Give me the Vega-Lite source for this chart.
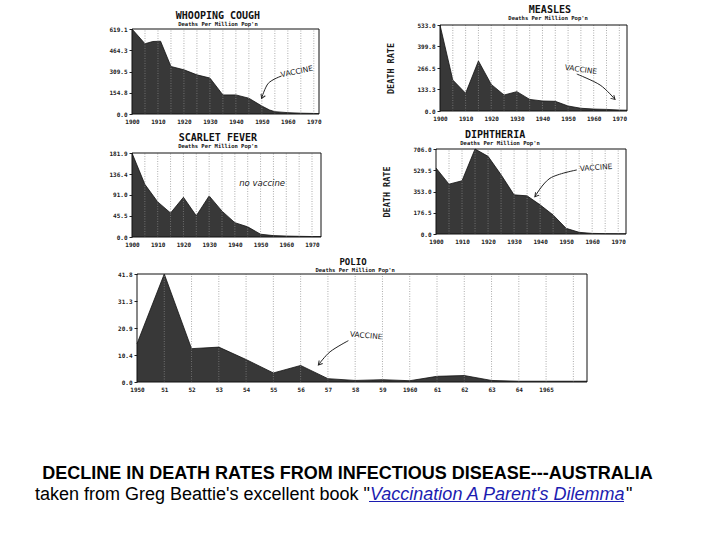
{
"$schema": "https://vega.github.io/schema/vega-lite/v6.json",
"width": 720, "height": 540, "padding": 0, "autosize": {"type": "none"},
"background": "white",
"config": {
  "view": {"stroke": null},
  "axis": {"labelFont": "DejaVu Sans Mono", "labelFontSize": 6, "labelFontWeight": "bold", "labelColor": "#1a1a1a", "domain": false, "tickColor": "#222", "tickSize": 3, "titleFont": "DejaVu Sans Mono", "titleFontWeight": "bold", "titleColor": "#1a1a1a", "labelFlush": false, "labelOverlap": false, "grid": false},
  "axisX": {"ticks": false, "labelPadding": 4},
  "axisY": {"ticks": true, "labelPadding": 2}
},
"datasets": {
  "whooping": [
    {"year": 1900, "rate": 619.1}, {"year": 1905, "rate": 512}, {"year": 1908, "rate": 528}, {"year": 1911, "rate": 530},
    {"year": 1915, "rate": 346}, {"year": 1920, "rate": 322}, {"year": 1925, "rate": 285}, {"year": 1930, "rate": 262},
    {"year": 1935, "rate": 139}, {"year": 1940, "rate": 139}, {"year": 1945, "rate": 115}, {"year": 1950, "rate": 58},
    {"year": 1953, "rate": 29}, {"year": 1955, "rate": 17}, {"year": 1960, "rate": 10}, {"year": 1965, "rate": 6},
    {"year": 1970, "rate": 4}, {"year": 1972, "rate": 3}
  ],
  "measles": [
    {"year": 1900, "rate": 533}, {"year": 1905, "rate": 192}, {"year": 1910, "rate": 110}, {"year": 1915, "rate": 310},
    {"year": 1920, "rate": 165}, {"year": 1925, "rate": 99}, {"year": 1930, "rate": 120}, {"year": 1935, "rate": 72},
    {"year": 1940, "rate": 62}, {"year": 1945, "rate": 60}, {"year": 1950, "rate": 31}, {"year": 1955, "rate": 17},
    {"year": 1960, "rate": 12}, {"year": 1965, "rate": 10}, {"year": 1970, "rate": 6}, {"year": 1973, "rate": 5}
  ],
  "scarlet": [
    {"year": 1900, "rate": 181.9}, {"year": 1905, "rate": 114}, {"year": 1910, "rate": 76}, {"year": 1915, "rate": 52},
    {"year": 1920, "rate": 86}, {"year": 1925, "rate": 46}, {"year": 1930, "rate": 89}, {"year": 1935, "rate": 56},
    {"year": 1940, "rate": 31}, {"year": 1945, "rate": 22}, {"year": 1950, "rate": 6}, {"year": 1955, "rate": 3},
    {"year": 1960, "rate": 2}, {"year": 1965, "rate": 1.5}, {"year": 1970, "rate": 1}, {"year": 1973.5, "rate": 1}
  ],
  "diphtheria": [
    {"year": 1900, "rate": 548}, {"year": 1905, "rate": 414}, {"year": 1910, "rate": 442}, {"year": 1915, "rate": 706},
    {"year": 1920, "rate": 645}, {"year": 1925, "rate": 492}, {"year": 1930, "rate": 325}, {"year": 1935, "rate": 317},
    {"year": 1940, "rate": 242}, {"year": 1945, "rate": 158}, {"year": 1950, "rate": 47}, {"year": 1955, "rate": 14},
    {"year": 1960, "rate": 5}, {"year": 1965, "rate": 3}, {"year": 1970, "rate": 2}, {"year": 1973, "rate": 2}
  ],
  "polio": [
    {"year": 1950, "rate": 14.8}, {"year": 1951, "rate": 41.8}, {"year": 1952, "rate": 12.9}, {"year": 1953, "rate": 13.5},
    {"year": 1954, "rate": 8.7}, {"year": 1955, "rate": 3.5}, {"year": 1956, "rate": 6.4}, {"year": 1957, "rate": 1.3},
    {"year": 1958, "rate": 0.6}, {"year": 1959, "rate": 0.9}, {"year": 1960, "rate": 0.5}, {"year": 1961, "rate": 2.2},
    {"year": 1962, "rate": 2.5}, {"year": 1963, "rate": 0.6}, {"year": 1964, "rate": 0.3}, {"year": 1965, "rate": 0.3},
    {"year": 1966, "rate": 0.3}, {"year": 1966.5, "rate": 0.3}
  ],
  "grid_decades": [
    {"g": 1905}, {"g": 1910}, {"g": 1915}, {"g": 1920}, {"g": 1925}, {"g": 1930}, {"g": 1935}, {"g": 1940},
    {"g": 1945}, {"g": 1950}, {"g": 1955}, {"g": 1960}, {"g": 1965}, {"g": 1970}
  ],
  "grid_years": [
    {"g": 1951}, {"g": 1952}, {"g": 1953}, {"g": 1954}, {"g": 1955}, {"g": 1956}, {"g": 1957}, {"g": 1958},
    {"g": 1959}, {"g": 1960}, {"g": 1961}, {"g": 1962}, {"g": 1963}, {"g": 1964}, {"g": 1965}, {"g": 1966}
  ]
},
"resolve": {"scale": {"x": "independent", "y": "independent"}, "axis": {"x": "independent", "y": "independent"}},
"layer": [
  {
    "layer": [
      {"data": {"name": "whooping"},
       "mark": {"type": "area", "color": "#383838", "opacity": 1, "line": {"color": "#111", "strokeWidth": 0.8}},
       "encoding": {
         "x": {"field": "year", "type": "quantitative", "scale": {"domain": [1900, 1972], "range": [132, 319], "nice": false, "zero": false},
               "axis": {"orient": "bottom", "offset": -426, "values": [1900,1910,1920,1930,1940,1950,1960,1970], "format": "d", "title": null}},
         "y": {"field": "rate", "type": "quantitative", "scale": {"domain": [0, 619.1], "range": [114, 29], "nice": false, "zero": false},
               "axis": {"orient": "left", "offset": -132, "values": [0, 154.8, 309.5, 464.3, 619.1], "format": ".1f", "title": null}}
       }},
      {"data": {"name": "grid_decades"},
       "mark": {"type": "rule", "color": "#8a8a8a", "strokeWidth": 0.7, "strokeDash": [1, 1.5]},
       "encoding": {"x": {"field": "g", "type": "quantitative"}, "y": {"datum": 0, "type": "quantitative"}, "y2": {"datum": 619.1}}},
      {"data": {"values": [{}]},
       "mark": {"type": "rect", "fillOpacity": 0, "stroke": "#111", "strokeWidth": 1},
       "encoding": {"x": {"datum": 1900, "type": "quantitative"}, "x2": {"datum": 1972},
                    "y": {"datum": 0, "type": "quantitative"}, "y2": {"datum": 619.1}}},
      {"data": {"values": [{}]},
       "mark": {"type": "text", "font": "DejaVu Sans Mono", "fontWeight": "bold", "fontSize": 10, "baseline": "alphabetic", "color": "#111"},
       "encoding": {"x": {"datum": 1933.1, "type": "quantitative"}, "y": {"datum": 692, "type": "quantitative"}, "text": {"value": "WHOOPING COUGH"}}},
      {"data": {"values": [{}]},
       "mark": {"type": "text", "font": "DejaVu Sans Mono", "fontWeight": "bold", "fontSize": 5.5, "baseline": "alphabetic", "color": "#111"},
       "encoding": {"x": {"datum": 1933.1, "type": "quantitative"}, "y": {"datum": 641, "type": "quantitative"}, "text": {"value": "Deaths Per Million Pop'n"}}},
      {"data": {"values": [{}]},
       "mark": {"type": "text", "font": "DejaVu Sans", "fontSize": 7.5, "angle": -12, "color": "#222"},
       "encoding": {"x": {"datum": 1963.5, "type": "quantitative"}, "y": {"datum": 306, "type": "quantitative"}, "text": {"value": "VACCINE"}}},
      {"data": {"values": [{"year": 1957.6, "rate": 277}, {"year": 1952.5, "rate": 224}, {"year": 1949.9, "rate": 114}]},
       "mark": {"type": "line", "interpolate": "cardinal", "color": "#222", "strokeWidth": 1},
       "encoding": {"x": {"field": "year", "type": "quantitative"}, "y": {"field": "rate", "type": "quantitative"}}},
      {"data": {"values": [{"year": 1949.9, "rate": 114}]},
       "mark": {"type": "point", "shape": "M-0.6,-1L0,0L0.6,-1", "filled": false, "size": 60, "angle": 24, "color": "#222", "strokeWidth": 1, "opacity": 1},
       "encoding": {"x": {"field": "year", "type": "quantitative"}, "y": {"field": "rate", "type": "quantitative"}}}
    ]
  },
  {
    "layer": [
      {"data": {"name": "measles"},
       "mark": {"type": "area", "color": "#383838", "opacity": 1, "line": {"color": "#111", "strokeWidth": 0.8}},
       "encoding": {
         "x": {"field": "year", "type": "quantitative", "scale": {"domain": [1900, 1973], "range": [440, 627], "nice": false, "zero": false},
               "axis": {"orient": "bottom", "offset": -429, "values": [1900,1910,1920,1930,1940,1950,1960,1970], "format": "d", "title": null}},
         "y": {"field": "rate", "type": "quantitative", "scale": {"domain": [0, 533], "range": [111, 25], "nice": false, "zero": false},
               "axis": {"orient": "left", "offset": -440, "values": [0, 133.3, 266.5, 399.8, 533], "format": ".1f", "title": "DEATH RATE", "titleFontSize": 8.5, "titlePadding": 21}}
       }},
      {"data": {"name": "grid_decades"},
       "mark": {"type": "rule", "color": "#8a8a8a", "strokeWidth": 0.7, "strokeDash": [1, 1.5]},
       "encoding": {"x": {"field": "g", "type": "quantitative"}, "y": {"datum": 0, "type": "quantitative"}, "y2": {"datum": 533}}},
      {"data": {"values": [{}]},
       "mark": {"type": "rect", "fillOpacity": 0, "stroke": "#111", "strokeWidth": 1},
       "encoding": {"x": {"datum": 1900, "type": "quantitative"}, "x2": {"datum": 1973},
                    "y": {"datum": 0, "type": "quantitative"}, "y2": {"datum": 533}}},
      {"data": {"values": [{}]},
       "mark": {"type": "text", "font": "DejaVu Sans Mono", "fontWeight": "bold", "fontSize": 10, "baseline": "alphabetic", "color": "#111"},
       "encoding": {"x": {"datum": 1942.9, "type": "quantitative"}, "y": {"datum": 605, "type": "quantitative"}, "text": {"value": "MEASLES"}}},
      {"data": {"values": [{}]},
       "mark": {"type": "text", "font": "DejaVu Sans Mono", "fontWeight": "bold", "fontSize": 5.5, "baseline": "alphabetic", "color": "#111"},
       "encoding": {"x": {"datum": 1942.2, "type": "quantitative"}, "y": {"datum": 564, "type": "quantitative"}, "text": {"value": "Deaths Per Million Pop'n"}}},
      {"data": {"values": [{}]},
       "mark": {"type": "text", "font": "DejaVu Sans", "fontSize": 7.5, "angle": 8, "color": "#222"},
       "encoding": {"x": {"datum": 1955.0, "type": "quantitative"}, "y": {"datum": 254, "type": "quantitative"}, "text": {"value": "VACCINE"}}},
      {"data": {"values": [{"year": 1953.4, "rate": 229}, {"year": 1962.5, "rate": 161}, {"year": 1968.3, "rate": 72}]},
       "mark": {"type": "line", "interpolate": "cardinal", "color": "#222", "strokeWidth": 1},
       "encoding": {"x": {"field": "year", "type": "quantitative"}, "y": {"field": "rate", "type": "quantitative"}}},
      {"data": {"values": [{"year": 1968.3, "rate": 72}]},
       "mark": {"type": "point", "shape": "M-0.6,-1L0,0L0.6,-1", "filled": false, "size": 60, "angle": -46, "color": "#222", "strokeWidth": 1, "opacity": 1},
       "encoding": {"x": {"field": "year", "type": "quantitative"}, "y": {"field": "rate", "type": "quantitative"}}}
    ]
  },
  {
    "layer": [
      {"data": {"name": "scarlet"},
       "mark": {"type": "area", "color": "#383838", "opacity": 1, "line": {"color": "#111", "strokeWidth": 0.8}},
       "encoding": {
         "x": {"field": "year", "type": "quantitative", "scale": {"domain": [1900, 1973.5], "range": [132, 321], "nice": false, "zero": false},
               "axis": {"orient": "bottom", "offset": -303, "values": [1900,1910,1920,1930,1940,1950,1960,1970], "format": "d", "title": null}},
         "y": {"field": "rate", "type": "quantitative", "scale": {"domain": [0, 181.9], "range": [237, 153], "nice": false, "zero": false},
               "axis": {"orient": "left", "offset": -132, "values": [0, 45.5, 91, 136.4, 181.9], "format": ".1f", "title": null}}
       }},
      {"data": {"name": "grid_decades"},
       "mark": {"type": "rule", "color": "#8a8a8a", "strokeWidth": 0.7, "strokeDash": [1, 1.5]},
       "encoding": {"x": {"field": "g", "type": "quantitative"}, "y": {"datum": 0, "type": "quantitative"}, "y2": {"datum": 181.9}}},
      {"data": {"values": [{}]},
       "mark": {"type": "rect", "fillOpacity": 0, "stroke": "#111", "strokeWidth": 1},
       "encoding": {"x": {"datum": 1900, "type": "quantitative"}, "x2": {"datum": 1973.5},
                    "y": {"datum": 0, "type": "quantitative"}, "y2": {"datum": 181.9}}},
      {"data": {"values": [{}]},
       "mark": {"type": "text", "font": "DejaVu Sans Mono", "fontWeight": "bold", "fontSize": 10, "baseline": "alphabetic", "color": "#111"},
       "encoding": {"x": {"datum": 1933.4, "type": "quantitative"}, "y": {"datum": 207, "type": "quantitative"}, "text": {"value": "SCARLET FEVER"}}},
      {"data": {"values": [{}]},
       "mark": {"type": "text", "font": "DejaVu Sans Mono", "fontWeight": "bold", "fontSize": 5.5, "baseline": "alphabetic", "color": "#111"},
       "encoding": {"x": {"datum": 1933.4, "type": "quantitative"}, "y": {"datum": 192.7, "type": "quantitative"}, "text": {"value": "Deaths Per Million Pop'n"}}},
      {"data": {"values": [{}]},
       "mark": {"type": "text", "font": "DejaVu Sans", "fontStyle": "italic", "fontSize": 8.5, "color": "#222"},
       "encoding": {"x": {"datum": 1950.6, "type": "quantitative"}, "y": {"datum": 118, "type": "quantitative"}, "text": {"value": "no   vaccine"}}}
    ]
  },
  {
    "layer": [
      {"data": {"name": "diphtheria"},
       "mark": {"type": "area", "color": "#383838", "opacity": 1, "line": {"color": "#111", "strokeWidth": 0.8}},
       "encoding": {
         "x": {"field": "year", "type": "quantitative", "scale": {"domain": [1900, 1973], "range": [436, 626], "nice": false, "zero": false},
               "axis": {"orient": "bottom", "offset": -306, "values": [1900,1910,1920,1930,1940,1950,1960,1970], "format": "d", "title": null}},
         "y": {"field": "rate", "type": "quantitative", "scale": {"domain": [0, 706], "range": [234, 149], "nice": false, "zero": false},
               "axis": {"orient": "left", "offset": -436, "values": [0, 176.5, 353, 529.5, 706], "format": ".1f", "title": "DEATH RATE", "titleFontSize": 8.5, "titlePadding": 21}}
       }},
      {"data": {"name": "grid_decades"},
       "mark": {"type": "rule", "color": "#8a8a8a", "strokeWidth": 0.7, "strokeDash": [1, 1.5]},
       "encoding": {"x": {"field": "g", "type": "quantitative"}, "y": {"datum": 0, "type": "quantitative"}, "y2": {"datum": 706}}},
      {"data": {"values": [{}]},
       "mark": {"type": "rect", "fillOpacity": 0, "stroke": "#111", "strokeWidth": 1},
       "encoding": {"x": {"datum": 1900, "type": "quantitative"}, "x2": {"datum": 1973},
                    "y": {"datum": 0, "type": "quantitative"}, "y2": {"datum": 706}}},
      {"data": {"values": [{}]},
       "mark": {"type": "text", "font": "DejaVu Sans Mono", "fontWeight": "bold", "fontSize": 10, "baseline": "alphabetic", "color": "#111"},
       "encoding": {"x": {"datum": 1922.7, "type": "quantitative"}, "y": {"datum": 795, "type": "quantitative"}, "text": {"value": "DIPHTHERIA"}}},
      {"data": {"values": [{}]},
       "mark": {"type": "text", "font": "DejaVu Sans Mono", "fontWeight": "bold", "fontSize": 5.5, "baseline": "alphabetic", "color": "#111"},
       "encoding": {"x": {"datum": 1924.6, "type": "quantitative"}, "y": {"datum": 739, "type": "quantitative"}, "text": {"value": "Deaths Per Million Pop'n"}}},
      {"data": {"values": [{}]},
       "mark": {"type": "text", "font": "DejaVu Sans", "fontSize": 7.5, "angle": -4, "color": "#222"},
       "encoding": {"x": {"datum": 1961.5, "type": "quantitative"}, "y": {"datum": 548, "type": "quantitative"}, "text": {"value": "VACCINE"}}},
      {"data": {"values": [{"year": 1954.1, "rate": 532}, {"year": 1943.8, "rate": 463}, {"year": 1938.0, "rate": 310}]},
       "mark": {"type": "line", "interpolate": "cardinal", "color": "#222", "strokeWidth": 1},
       "encoding": {"x": {"field": "year", "type": "quantitative"}, "y": {"field": "rate", "type": "quantitative"}}},
      {"data": {"values": [{"year": 1938.0, "rate": 310}]},
       "mark": {"type": "point", "shape": "M-0.6,-1L0,0L0.6,-1", "filled": false, "size": 60, "angle": 39, "color": "#222", "strokeWidth": 1, "opacity": 1},
       "encoding": {"x": {"field": "year", "type": "quantitative"}, "y": {"field": "rate", "type": "quantitative"}}}
    ]
  },
  {
    "layer": [
      {"data": {"name": "polio"},
       "mark": {"type": "area", "color": "#383838", "opacity": 1, "line": {"color": "#111", "strokeWidth": 0.8}},
       "encoding": {
         "x": {"field": "year", "type": "quantitative", "scale": {"domain": [1950, 1966.5], "range": [137, 587], "nice": false, "zero": false},
               "axis": {"orient": "bottom", "offset": -158, "values": [1950,1951,1952,1953,1954,1955,1956,1957,1958,1959,1960,1961,1962,1963,1964,1965], "format": "d", "labelExpr": "datum.value == 1950 || datum.value == 1960 || datum.value == 1965 ? datum.label : substring(datum.label, 2)", "title": null}},
         "y": {"field": "rate", "type": "quantitative", "scale": {"domain": [0, 41.8], "range": [382, 274], "nice": false, "zero": false},
               "axis": {"orient": "left", "offset": -137, "values": [0, 10.4, 20.9, 31.3, 41.8], "format": ".1f", "title": null}}
       }},
      {"data": {"name": "grid_years"},
       "mark": {"type": "rule", "color": "#8a8a8a", "strokeWidth": 0.7, "strokeDash": [1, 1.5]},
       "encoding": {"x": {"field": "g", "type": "quantitative"}, "y": {"datum": 0, "type": "quantitative"}, "y2": {"datum": 41.8}}},
      {"data": {"values": [{}]},
       "mark": {"type": "rect", "fillOpacity": 0, "stroke": "#111", "strokeWidth": 1},
       "encoding": {"x": {"datum": 1950, "type": "quantitative"}, "x2": {"datum": 1966.5},
                    "y": {"datum": 0, "type": "quantitative"}, "y2": {"datum": 41.8}}},
      {"data": {"values": [{}]},
       "mark": {"type": "text", "font": "DejaVu Sans Mono", "fontWeight": "bold", "fontSize": 9, "baseline": "alphabetic", "color": "#111"},
       "encoding": {"x": {"datum": 1957.92, "type": "quantitative"}, "y": {"datum": 45.3, "type": "quantitative"}, "text": {"value": "POLIO"}}},
      {"data": {"values": [{}]},
       "mark": {"type": "text", "font": "DejaVu Sans Mono", "fontWeight": "bold", "fontSize": 5.5, "baseline": "alphabetic", "color": "#111"},
       "encoding": {"x": {"datum": 1958.0, "type": "quantitative"}, "y": {"datum": 42.6, "type": "quantitative"}, "text": {"value": "Deaths Per Million Pop'n"}}},
      {"data": {"values": [{}]},
       "mark": {"type": "text", "font": "DejaVu Sans", "fontSize": 7.5, "angle": 5, "color": "#222"},
       "encoding": {"x": {"datum": 1958.4, "type": "quantitative"}, "y": {"datum": 17.8, "type": "quantitative"}, "text": {"value": "VACCINE"}}},
      {"data": {"values": [{"year": 1957.75, "rate": 16.0}, {"year": 1957.08, "rate": 11.7}, {"year": 1956.65, "rate": 6.6}]},
       "mark": {"type": "line", "interpolate": "cardinal", "color": "#222", "strokeWidth": 1},
       "encoding": {"x": {"field": "year", "type": "quantitative"}, "y": {"field": "rate", "type": "quantitative"}}},
      {"data": {"values": [{"year": 1956.65, "rate": 6.6}]},
       "mark": {"type": "point", "shape": "M-0.6,-1L0,0L0.6,-1", "filled": false, "size": 60, "angle": 41, "color": "#222", "strokeWidth": 1, "opacity": 1},
       "encoding": {"x": {"field": "year", "type": "quantitative"}, "y": {"field": "rate", "type": "quantitative"}}}
    ]
  },
  {
    "data": {"values": [{}]},
    "layer": [
      {"mark": {"type": "text", "font": "Liberation Sans", "fontWeight": "bold", "fontSize": 18, "align": "center", "baseline": "alphabetic", "color": "black"},
       "encoding": {"x": {"datum": 347.5, "type": "quantitative", "scale": {"domain": [0, 720], "range": [0, 720], "nice": false, "zero": false}, "axis": null},
                    "y": {"datum": 479, "type": "quantitative", "scale": {"domain": [0, 540], "range": [0, 540], "nice": false, "zero": false}, "axis": null},
                    "text": {"value": "DECLINE IN DEATH RATES FROM INFECTIOUS DISEASE---AUSTRALIA"}}},
      {"mark": {"type": "text", "font": "Liberation Sans", "fontSize": 18, "align": "left", "baseline": "alphabetic", "color": "black"},
       "encoding": {"x": {"datum": 35, "type": "quantitative", "axis": null}, "y": {"datum": 499.5, "type": "quantitative", "axis": null},
                    "text": {"value": "taken from Greg Beattie's excellent book \""}}},
      {"mark": {"type": "text", "font": "Liberation Sans", "fontSize": 18, "fontStyle": "italic", "align": "left", "baseline": "alphabetic", "color": "#1c1cb0"},
       "encoding": {"x": {"datum": 370, "type": "quantitative", "axis": null}, "y": {"datum": 499.5, "type": "quantitative", "axis": null},
                    "text": {"value": "Vaccination A Parent's Dilemma"}}},
      {"mark": {"type": "text", "font": "Liberation Sans", "fontSize": 18, "align": "left", "baseline": "alphabetic", "color": "black"},
       "encoding": {"x": {"datum": 626, "type": "quantitative", "axis": null}, "y": {"datum": 499.5, "type": "quantitative", "axis": null},
                    "text": {"value": "\""}}},
      {"mark": {"type": "rule", "color": "#1c1cb0", "strokeWidth": 1},
       "encoding": {"x": {"datum": 369, "type": "quantitative", "axis": null}, "x2": {"datum": 624}, "y": {"datum": 501.5, "type": "quantitative", "axis": null}}}
    ]
  }
]
}
